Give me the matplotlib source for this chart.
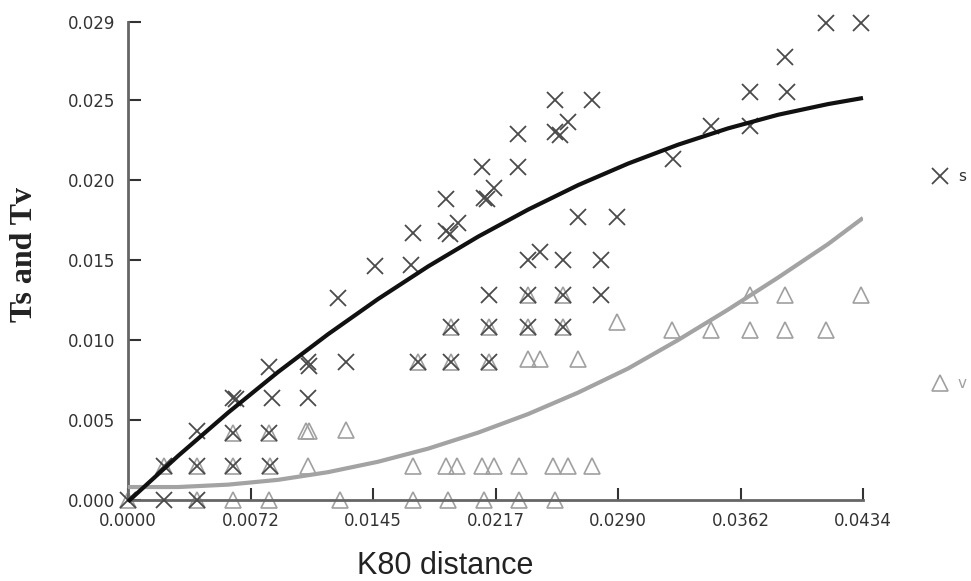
import matplotlib
matplotlib.use('Agg')
import matplotlib.pyplot as plt

# Ts points (crosses)
s_x = [0.0000, 0.0021, 0.0041, 0.0021, 0.0041, 0.0062, 0.0084, 0.0041, 0.0062, 0.0083,
       0.0062, 0.0064, 0.0085, 0.0106, 0.0083, 0.0106, 0.0107, 0.0129, 0.0171, 0.0191,
       0.0213, 0.0191, 0.0213, 0.0236, 0.0257, 0.0213, 0.0236, 0.0257, 0.0279, 0.0236,
       0.0243, 0.0257, 0.0279, 0.0266, 0.0289, 0.0124, 0.0146, 0.0167, 0.0168, 0.0188,
       0.0190, 0.0195, 0.0188, 0.0209, 0.0210, 0.0212, 0.0216, 0.0230, 0.0230, 0.0252,
       0.0255, 0.0260, 0.0252, 0.0274, 0.0322, 0.0344, 0.0367, 0.0367, 0.0389, 0.0388,
       0.0412, 0.0433]
s_y = [0.0000, 0.0000, 0.0000, 0.0021, 0.0021, 0.0021, 0.0021, 0.0043, 0.0042, 0.0042,
       0.0064, 0.0063, 0.0064, 0.0064, 0.0083, 0.0086, 0.0084, 0.0086, 0.0086, 0.0086,
       0.0086, 0.0108, 0.0108, 0.0108, 0.0108, 0.0128, 0.0128, 0.0128, 0.0128, 0.0150,
       0.0155, 0.0150, 0.0150, 0.0177, 0.0177, 0.0126, 0.0146, 0.0147, 0.0167, 0.0168,
       0.0166, 0.0173, 0.0188, 0.0208, 0.0189, 0.0188, 0.0195, 0.0208, 0.0229, 0.0230,
       0.0228, 0.0236, 0.0250, 0.0250, 0.0213, 0.0234, 0.0234, 0.0255, 0.0255, 0.0277,
       0.0298, 0.0298]

# Tv points (triangles)
v_x = [0.0000, 0.0041, 0.0062, 0.0083, 0.0125, 0.0168, 0.0189, 0.0210, 0.0231, 0.0252,
       0.0021, 0.0041, 0.0062, 0.0084, 0.0106, 0.0168, 0.0188, 0.0194, 0.0209, 0.0216,
       0.0231, 0.0251, 0.0260, 0.0274,
       0.0062, 0.0083, 0.0105, 0.0107, 0.0129,
       0.0171, 0.0191, 0.0213, 0.0236, 0.0243, 0.0266,
       0.0191, 0.0213, 0.0236, 0.0257, 0.0289, 0.0321, 0.0344, 0.0367, 0.0388, 0.0412,
       0.0236, 0.0257, 0.0367, 0.0388, 0.0433]
v_y = [0.0000] * 10 + [0.0021] * 14 + \
      [0.0042, 0.0042, 0.0043, 0.0043, 0.0044] + \
      [0.0086, 0.0086, 0.0086, 0.0088, 0.0088, 0.0088] + \
      [0.0108, 0.0108, 0.0108, 0.0108, 0.0111, 0.0106, 0.0106, 0.0106, 0.0106, 0.0106] + \
      [0.0128] * 5

# trend curves
fit_x = [0.0, 0.00295, 0.00591, 0.00886, 0.01181, 0.01476, 0.01772, 0.02067,
         0.02362, 0.02657, 0.02953, 0.03248, 0.03543, 0.03838, 0.04134, 0.0434]
s_fit_y = [-0.0001, 0.00275, 0.00546, 0.0080, 0.01036, 0.01256, 0.0146, 0.01646,
           0.01815, 0.01968, 0.02103, 0.02221, 0.02323, 0.02408, 0.02475, 0.02513]
v_fit_y = [0.00081, 0.00081, 0.00096, 0.00126, 0.00174, 0.00239, 0.00321, 0.00421,
           0.00537, 0.00671, 0.00822, 0.0100, 0.0119, 0.0139, 0.0160, 0.01763]

x_ticks = [0.0434 * i / 6 for i in range(7)]
x_labels = ['0.0000', '0.0072', '0.0145', '0.0217', '0.0290', '0.0362', '0.0434']
y_ticks = [0.0, 0.005, 0.010, 0.015, 0.020, 0.025, 0.02988]
y_labels = ['0.000', '0.005', '0.010', '0.015', '0.020', '0.025', '0.029']

fig = plt.figure(figsize=(9.71, 5.81), dpi=100)
ax = fig.add_axes([128 / 971, 81 / 581, 735 / 971, 478 / 581])

ax.plot(v_x, v_y, linestyle='none', marker='^', markersize=11, markerfacecolor='none',
        markeredgecolor='#a0a0a0', markeredgewidth=1.2, clip_on=False, zorder=2)
ax.plot(s_x, s_y, linestyle='none', marker='x', markersize=12, color='#4a4a4a',
        markeredgewidth=1.3, clip_on=False, zorder=3)
ax.plot(fit_x, v_fit_y, color='#a3a3a3', linewidth=3, solid_capstyle='butt',
        solid_joinstyle='round', zorder=4)
ax.plot(fit_x, s_fit_y, color='#111111', linewidth=3, solid_capstyle='butt',
        solid_joinstyle='round', clip_on=False, zorder=5)

ax.set_xlim(0, 0.0434)
ax.set_ylim(0, 0.02988)
ax.set_xticks(x_ticks)
ax.set_xticklabels(x_labels)
ax.set_yticks(y_ticks)
ax.set_yticklabels(y_labels)
ax.tick_params(direction='in', length=9, width=1.5, color='#333333', pad=9,
               labelsize=12, labelcolor='#333333')

for side in ['top', 'right']:
    ax.spines[side].set_visible(False)
for side in ['left', 'bottom']:
    ax.spines[side].set_color('#666666')
    ax.spines[side].set_linewidth(2)

fig.text(24 / 971, 1 - 255 / 581, 'Ts and Tv', rotation=90, ha='center', va='center',
         fontsize=23, fontweight='bold', family='Liberation Serif', color='#222222')
fig.text(445 / 971, 1 - 566 / 581, 'K80 distance', ha='center', va='center',
         fontsize=22, family='Liberation Sans', color='#222222')

# legend
fig.lines.append(plt.Line2D([940 / 971], [1 - 176 / 581], transform=fig.transFigure,
                            marker='x', markersize=12, color='#4a4a4a',
                            markeredgewidth=1.3, linestyle='none'))
fig.text(958 / 971, 1 - 176 / 581, 's', ha='left', va='center', fontsize=11,
         color='#333333')
fig.lines.append(plt.Line2D([940 / 971], [1 - 383 / 581], transform=fig.transFigure,
                            marker='^', markersize=11, markerfacecolor='none',
                            markeredgecolor='#a0a0a0', markeredgewidth=1.2,
                            linestyle='none'))
fig.text(958 / 971, 1 - 383 / 581, 'v', ha='left', va='center', fontsize=11,
         color='#a0a0a0')

fig.savefig('out.png', dpi=100, facecolor='white')
